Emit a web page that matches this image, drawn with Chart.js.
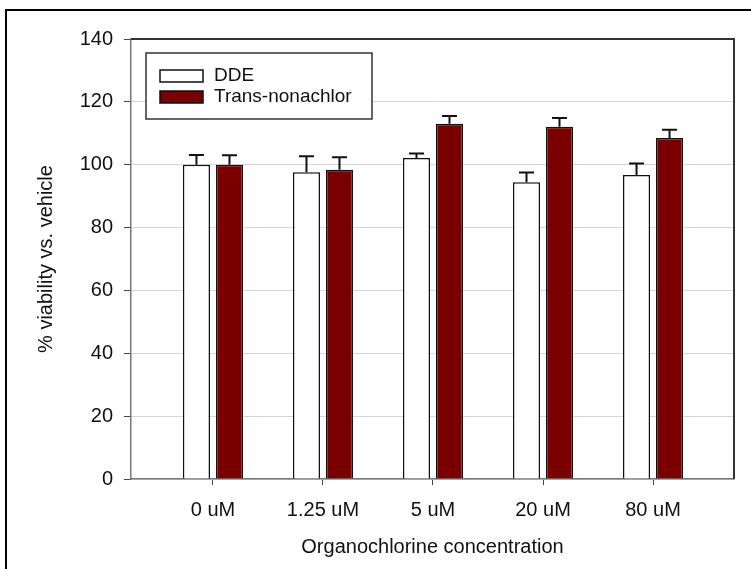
<!DOCTYPE html>
<html>
<head>
<meta charset="utf-8">
<script src="https://cdn.jsdelivr.net/npm/chart.js@4/dist/chart.umd.min.js"></script>
<style>
  body { margin: 0; background: #fff; }
  canvas { display: block; }
</style>
</head>
<body>
<canvas id="grafikoa" width="751" height="569"></canvas>
<script>
const categories = ['0 uM', '1.25 uM', '5 uM', '20 uM', '80 uM'];
const ddeValues = [100, 97.6, 102.1, 94.4, 96.7];
const ddeErrors = [3.1, 5.1, 1.5, 3.1, 3.7];
const tnValues = [100, 98.4, 113.0, 112.1, 108.5];
const tnErrors = [3.0, 4.0, 2.5, 2.8, 2.6];
const yTicks = [0, 20, 40, 60, 80, 100, 120, 140];

const FONT = "'Liberation Sans', Arial, sans-serif";

// upward-only error bars with a cap
const errorBars = {
  id: 'errorBars',
  afterDatasetsDraw(chart) {
    const ctx = chart.ctx;
    const y = chart.scales.y;
    ctx.save();
    ctx.strokeStyle = '#111';
    ctx.lineWidth = 2;
    chart.data.datasets.forEach((ds, i) => {
      chart.getDatasetMeta(i).data.forEach((bar, j) => {
        const top = y.getPixelForValue(ds.data[j].y + ds.errors[j]);
        ctx.beginPath();
        ctx.moveTo(bar.x, bar.y);
        ctx.lineTo(bar.x, top);
        ctx.moveTo(bar.x - 7.5, top);
        ctx.lineTo(bar.x + 7.5, top);
        ctx.stroke();
      });
    });
    ctx.restore();
  }
};

// plot frame, outer border and legend box
const frame = {
  id: 'frame',
  afterDraw(chart) {
    const ctx = chart.ctx;
    const a = chart.chartArea;
    ctx.save();
    ctx.strokeStyle = '#333';
    ctx.lineWidth = 2;
    ctx.beginPath();
    ctx.moveTo(a.left, a.top);
    ctx.lineTo(a.right, a.top);
    ctx.lineTo(a.right, a.bottom);
    ctx.stroke();

    ctx.strokeStyle = '#000';
    ctx.lineWidth = 2;
    ctx.beginPath();
    ctx.moveTo(6, 569);
    ctx.lineTo(6, 10);
    ctx.lineTo(751, 10);
    ctx.stroke();

    // legend
    ctx.fillStyle = '#fff';
    ctx.fillRect(146, 53, 226, 66);
    ctx.strokeStyle = '#333';
    ctx.lineWidth = 1.5;
    ctx.strokeRect(146, 53, 226, 66);
    ctx.font = '19px ' + FONT;
    ctx.textBaseline = 'middle';
    chart.data.datasets.forEach((ds, i) => {
      const cy = 76 + i * 21;
      ctx.fillStyle = ds.backgroundColor;
      ctx.fillRect(160, cy - 6, 43, 12);
      ctx.strokeStyle = '#111';
      ctx.lineWidth = 1.5;
      ctx.strokeRect(160, cy - 6, 43, 12);
      ctx.fillStyle = '#111';
      ctx.fillText(ds.label, 214, cy);
    });
    ctx.restore();
  }
};

const data = {
  datasets: [
    {
      label: 'DDE',
      data: ddeValues.map((v, i) => ({ x: i, y: v })),
      errors: ddeErrors,
      backgroundColor: '#ffffff',
      borderColor: '#111',
      borderWidth: 1.5,
    },
    {
      label: 'Trans-nonachlor',
      data: tnValues.map((v, i) => ({ x: i, y: v })),
      errors: tnErrors,
      backgroundColor: '#7a0000',
      borderColor: '#111',
      borderWidth: 1.5,
    }
  ]
};

const config = {
  type: 'bar',
  data: data,
  options: {
    responsive: false,
    animation: false,
    categoryPercentage: 0.6,
    barPercentage: 0.82,
    layout: { padding: { top: 39, right: 17, bottom: 0, left: 0 } },
    plugins: { legend: { display: false }, tooltip: { enabled: false } },
    scales: {
      x: {
        type: 'linear',
        offset: false,
        min: -0.745,
        max: 4.736,
        afterBuildTicks: (axis) => {
          axis.ticks = categories.map((c, i) => ({ value: i }));
        },
        afterFit: (scale) => { scale.height = 90; },
        ticks: {
          callback: (v) => categories[v],
          font: { size: 20, family: FONT },
          color: '#111',
          padding: 13,
          maxRotation: 0,
        },
        grid: { offset: false, drawOnChartArea: false, drawTicks: true, tickLength: 6, tickColor: '#444' },
        border: { color: '#777', width: 1.5 },
        title: {
          display: true,
          text: 'Organochlorine concentration',
          font: { size: 20, family: FONT },
          color: '#111',
          padding: { top: 0, bottom: 10 },
        }
      },
      y: {
        min: 0,
        max: 140,
        afterBuildTicks: (axis) => { axis.ticks = yTicks.map(v => ({ value: v })); },
        afterFit: (scale) => { scale.width = 131; },
        ticks: {
          font: { size: 20, family: FONT },
          color: '#111',
          padding: 11,
        },
        grid: { color: '#d6d6d6', lineWidth: 1, tickLength: 7, tickColor: '#444' },
        border: { color: '#777', width: 1.5 },
        title: {
          display: true,
          text: '% viability vs. vehicle',
          font: { size: 20, family: FONT },
          color: '#111',
          padding: { top: 34, bottom: 0 },
        }
      }
    }
  },
  plugins: [errorBars, frame]
};

const ctx = document.getElementById('grafikoa').getContext('2d');
new Chart(ctx, config);
</script>
</body>
</html>
